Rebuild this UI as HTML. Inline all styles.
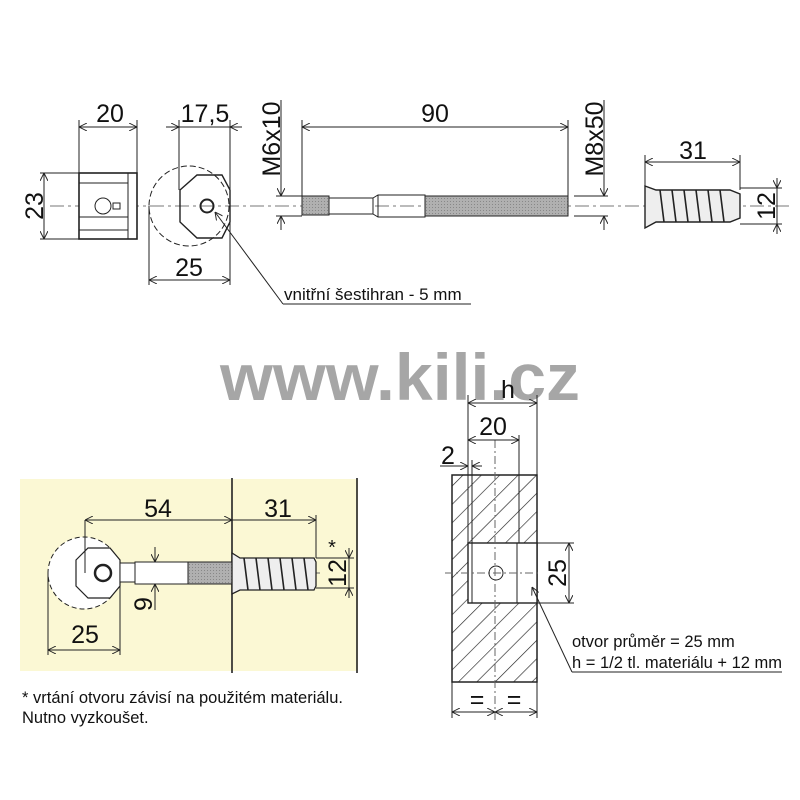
<!DOCTYPE html>
<html><head><style>body{margin:0;background:#fff}svg{display:block}</style></head>
<body>
<svg width="800" height="800" viewBox="0 0 800 800" xmlns="http://www.w3.org/2000/svg" font-family="Liberation Sans, Arial, sans-serif">
<defs>
<marker id="a" viewBox="0 0 10 10" refX="10" refY="5" markerWidth="8" markerHeight="8" orient="auto-start-reverse" markerUnits="userSpaceOnUse"><path d="M0,0 L10,5 L0,10" fill="none" stroke="#222" stroke-width="1.2"/></marker>
<pattern id="h" width="13" height="13" patternUnits="userSpaceOnUse" patternTransform="rotate(45)"><line x1="0" y1="0" x2="0" y2="13" stroke="#222" stroke-width="1.3"/></pattern>
<pattern id="thr" width="3" height="3" patternUnits="userSpaceOnUse"><rect width="3" height="3" fill="#b0b0b0"/><rect width="1" height="1" fill="#888"/></pattern>
</defs>
<g stroke="#222" fill="none" stroke-width="1">
<line x1="50" y1="206" x2="790" y2="206" stroke-dasharray="14,4,3,4" stroke="#777"/>
<rect x="79" y="173" width="58" height="66" fill="#fff" stroke-width="1.6"/>
<line x1="79" y1="183" x2="128" y2="183"/><line x1="79" y1="217" x2="128" y2="217"/><line x1="79" y1="230" x2="128" y2="230"/>
<line x1="128" y1="173" x2="128" y2="239"/>
<circle cx="103" cy="206" r="8"/><path d="M113,203 h7 v6 h-7 z"/>
<line x1="79" y1="120" x2="79" y2="173"/><line x1="137" y1="120" x2="137" y2="173"/>
<line x1="79" y1="127" x2="137" y2="127" marker-start="url(#a)" marker-end="url(#a)"/>
<line x1="40" y1="173" x2="79" y2="173"/><line x1="40" y1="239" x2="79" y2="239"/>
<line x1="44" y1="173" x2="44" y2="239" marker-start="url(#a)" marker-end="url(#a)"/>
<circle cx="189" cy="206" r="40" stroke-dasharray="6,3"/>
<polygon points="180,190 197,175 222,175 230,190 230,222 222,238 197,238 180,222" stroke-width="1.4"/>
<circle cx="207" cy="206" r="6.5" stroke-width="2"/>
<line x1="179" y1="120" x2="179" y2="190"/><line x1="230" y1="120" x2="230" y2="285"/><line x1="149" y1="206" x2="149" y2="285"/>
<line x1="166" y1="127" x2="179" y2="127" marker-end="url(#a)"/><line x1="179" y1="127" x2="230" y2="127"/><line x1="242" y1="127" x2="230" y2="127" marker-end="url(#a)"/>
<line x1="149" y1="280" x2="230" y2="280" marker-start="url(#a)" marker-end="url(#a)"/>
<polyline points="283,304 215,212" marker-end="url(#a)"/><line x1="283" y1="304" x2="471" y2="304"/>
<rect x="302" y="196" width="27" height="19" fill="url(#thr)"/>
<rect x="329" y="198" width="44" height="16" fill="#fff"/>
<path d="M373,198 L378,195 L425,195 L425,217 L378,217 L373,214"/>
<line x1="378" y1="195" x2="378" y2="217"/>
<rect x="425" y="196" width="143" height="20" fill="url(#thr)"/>
<line x1="302" y1="120" x2="302" y2="196"/><line x1="568" y1="120" x2="568" y2="196"/>
<line x1="302" y1="127" x2="568" y2="127" marker-start="url(#a)" marker-end="url(#a)"/>
<line x1="276" y1="196" x2="302" y2="196"/><line x1="276" y1="216" x2="302" y2="216"/>
<line x1="281" y1="100" x2="281" y2="196" marker-end="url(#a)"/><line x1="281" y1="230" x2="281" y2="216" marker-end="url(#a)"/>
<line x1="574" y1="196" x2="608" y2="196"/><line x1="574" y1="216" x2="608" y2="216"/>
<line x1="604" y1="100" x2="604" y2="196" marker-end="url(#a)"/><line x1="604" y1="230" x2="604" y2="216" marker-end="url(#a)"/>
<path d="M645,186 L656,190 L730,190 L740,194 L740,218 L730,222 L656,222 L645,228 Z" fill="#eee" stroke-width="1.4"/>
<g stroke-width="1.6"><path d="M660,190 l4,32 M672,190 l4,32 M684,190 l4,32 M696,190 l4,32 M708,190 l4,32 M720,190 l4,32"/></g>
<line x1="645" y1="155" x2="645" y2="186"/><line x1="740" y1="155" x2="740" y2="190"/>
<line x1="645" y1="162" x2="740" y2="162" marker-start="url(#a)" marker-end="url(#a)"/>
<line x1="740" y1="188" x2="782" y2="188"/><line x1="740" y1="224" x2="782" y2="224"/>
<line x1="777" y1="178" x2="777" y2="188" marker-end="url(#a)"/><line x1="777" y1="188" x2="777" y2="224"/><line x1="777" y1="234" x2="777" y2="224" marker-end="url(#a)"/>
</g>
<g font-size="25" fill="#111" text-anchor="middle">
<text x="110" y="122">20</text><text x="205" y="122">17,5</text><text x="435" y="122">90</text><text x="693" y="159">31</text>
<text x="189" y="276">25</text>
<text transform="translate(43,206) rotate(-90)">23</text>
<text transform="translate(280,139) rotate(-90)">M6x10</text>
<text transform="translate(603,139) rotate(-90)">M8x50</text>
<text transform="translate(775,206) rotate(-90)">12</text>
</g>
<text x="284" y="300" font-size="17" fill="#111">vnitřní šestihran - 5 mm</text>
<text x="220" y="400" font-size="66" font-weight="bold" fill="#a6a6a6" textLength="360" lengthAdjust="spacingAndGlyphs">www.kili.cz</text>
<rect x="20" y="479" width="338" height="192" fill="#fbf8d4"/>
<g stroke="#222" fill="none" stroke-width="1">
<line x1="232" y1="478" x2="232" y2="673" stroke-width="1.6"/><line x1="357" y1="478" x2="357" y2="673" stroke-width="1.6"/>
<line x1="65" y1="573" x2="320" y2="573" stroke-dasharray="10,3,3,3" stroke="#666"/>
<circle cx="84" cy="573" r="36" stroke-dasharray="5,3" fill="#fff"/>
<polygon points="76,560 88,548 110,548 120,560 120,586 110,598 88,598 76,586" fill="#fff" stroke-width="1.2"/>
<circle cx="103" cy="573" r="8" stroke-width="2.5"/>
<rect x="120" y="563" width="15" height="19" fill="#fff"/>
<rect x="135" y="562" width="53" height="22" fill="#fff"/>
<rect x="188" y="562" width="44" height="22" fill="url(#thr)"/>
<path d="M232,553 L240,558 L314,558 L316,562 L316,586 L314,590 L240,590 L232,594 Z" fill="#eee" stroke-width="1.3"/>
<g stroke-width="1.6"><path d="M244,558 l4,32 M256,558 l4,32 M268,558 l4,32 M280,558 l4,32 M292,558 l4,32 M304,558 l4,32"/></g>
<line x1="85" y1="520" x2="85" y2="573"/><line x1="316" y1="515" x2="316" y2="558"/>
<line x1="85" y1="520" x2="232" y2="520" marker-start="url(#a)" marker-end="url(#a)"/>
<line x1="232" y1="520" x2="316" y2="520" marker-end="url(#a)"/>
<line x1="316" y1="558" x2="354" y2="558"/><line x1="316" y1="588" x2="354" y2="588"/>
<line x1="349" y1="548" x2="349" y2="558" marker-end="url(#a)"/><line x1="349" y1="558" x2="349" y2="588"/><line x1="349" y1="598" x2="349" y2="588" marker-end="url(#a)"/>
<line x1="155" y1="547" x2="155" y2="562" marker-end="url(#a)"/><line x1="155" y1="610" x2="155" y2="584" marker-end="url(#a)"/>
<line x1="48" y1="573" x2="48" y2="655"/><line x1="120" y1="584" x2="120" y2="655"/>
<line x1="48" y1="650" x2="120" y2="650" marker-start="url(#a)" marker-end="url(#a)"/>
</g>
<g font-size="25" fill="#111" text-anchor="middle">
<text x="158" y="517">54</text><text x="278" y="517">31</text><text x="85" y="643">25</text>
<text transform="translate(346,573) rotate(-90)">12</text>
<text transform="translate(152,604) rotate(-90)">9</text>
<text x="332" y="554" font-size="20">*</text>
</g>
<text x="22" y="703" font-size="16.5" fill="#111">* vrtání otvoru závisí na použitém materiálu.</text>
<text x="22" y="723" font-size="16.5" fill="#111">Nutno vyzkoušet.</text>
<g stroke="#222" fill="none" stroke-width="1">
<rect x="452" y="475" width="85" height="207" fill="url(#h)" stroke-width="1.5"/>
<rect x="468" y="543" width="69" height="60" fill="#fff" stroke-width="1.4"/>
<line x1="472" y1="543" x2="472" y2="603"/><line x1="517" y1="543" x2="517" y2="603"/>
<circle cx="496" cy="573" r="7"/>
<line x1="495" y1="440" x2="495" y2="720" stroke-dasharray="8,3,2,3" stroke="#666"/>
<line x1="445" y1="573" x2="540" y2="573" stroke-dasharray="8,3,2,3" stroke="#666"/>
<line x1="468" y1="395" x2="468" y2="543"/><line x1="537" y1="395" x2="537" y2="475"/><line x1="519" y1="435" x2="519" y2="543"/><line x1="472" y1="460" x2="472" y2="543"/>
<line x1="468" y1="403" x2="537" y2="403" marker-start="url(#a)" marker-end="url(#a)"/>
<line x1="468" y1="440" x2="519" y2="440" marker-start="url(#a)" marker-end="url(#a)"/>
<line x1="440" y1="466" x2="468" y2="466" marker-end="url(#a)"/><line x1="482" y1="466" x2="472" y2="466" marker-end="url(#a)"/>
<line x1="537" y1="543" x2="574" y2="543"/><line x1="537" y1="603" x2="574" y2="603"/>
<line x1="569" y1="543" x2="569" y2="603" marker-start="url(#a)" marker-end="url(#a)"/>
<line x1="452" y1="682" x2="452" y2="718"/><line x1="537" y1="682" x2="537" y2="718"/>
<line x1="452" y1="712" x2="495" y2="712" marker-start="url(#a)" marker-end="url(#a)"/>
<line x1="495" y1="712" x2="537" y2="712" marker-start="url(#a)" marker-end="url(#a)"/>
<line x1="572" y1="672" x2="532" y2="587" marker-end="url(#a)"/><line x1="572" y1="672" x2="782" y2="672"/>
</g>
<g font-size="25" fill="#111" text-anchor="middle">
<text x="508" y="398">h</text><text x="493" y="435">20</text><text x="448" y="464">2</text>
<text transform="translate(566,573) rotate(-90)">25</text>
<text x="477" y="708">=</text><text x="514" y="708">=</text>
</g>
<text x="572" y="647" font-size="16.5" fill="#111">otvor průměr = 25 mm</text>
<text x="572" y="668" font-size="16.5" fill="#111">h = 1/2 tl. materiálu + 12 mm</text>
</svg>
</body></html>
